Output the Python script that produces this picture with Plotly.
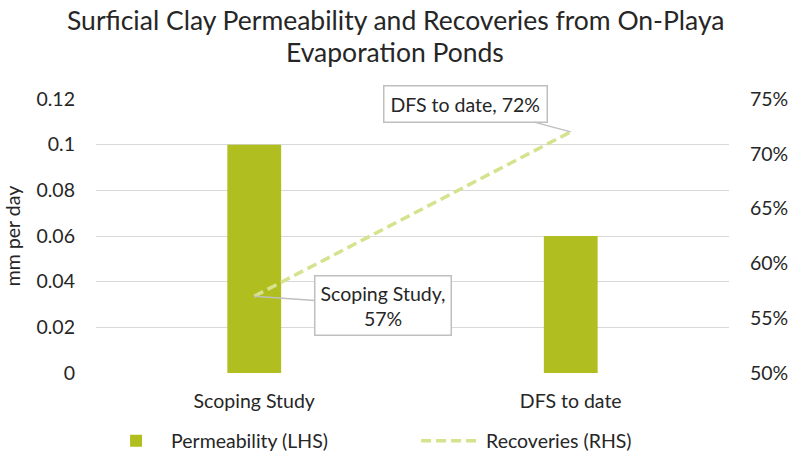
import plotly.graph_objects as go

categories = ["Scoping Study", "DFS to date"]
permeability = [0.10, 0.06]
recoveries = [0.57, 0.72]
left_ticks = [0, 0.02, 0.04, 0.06, 0.08, 0.1, 0.12]
left_tick_text = ["0", "0.02", "0.04", "0.06", "0.08", "0.1", "0.12"]
right_ticks = [0.50, 0.55, 0.60, 0.65, 0.70, 0.75]
title_lines = ["Surficial Clay Permeability and Recoveries from On-Playa", "Evaporation Ponds"]

FONT = "Lato"
TXT = "#262626"
FS = 19.5

L, R, T, B = 96, 61, 99, 80
W, H = 790, 453
PH = H - T - B
PW = W - L - R

fig = go.Figure()
fig.add_trace(go.Bar(
    x=categories, y=permeability, name="Permeability (LHS)",
    marker=dict(color="#B0BF1F", line=dict(width=0)),
))
fig.add_trace(go.Scatter(
    x=categories, y=recoveries, name="Recoveries (RHS)", yaxis="y2",
    mode="lines", line=dict(color="#D6E28D", width=3.5, dash="10px,5px"),
))

title_ann = [
    dict(text=title_lines[0], xref="paper", yref="paper",
         x=(395 - L) / PW, y=(H - B - 20) / PH, xanchor="center", yanchor="middle",
         showarrow=False, font=dict(family=FONT, size=26.5, color=TXT)),
    dict(text=title_lines[1], xref="paper", yref="paper",
         x=(395 - L) / PW, y=(H - B - 52) / PH, xanchor="center", yanchor="middle",
         showarrow=False, font=dict(family=FONT, size=26.5, color=TXT)),
]

fig.update_layout(
    width=W, height=H,
    margin=dict(l=L, r=R, t=T, b=B, autoexpand=False),
    paper_bgcolor="white", plot_bgcolor="white",
    font=dict(family=FONT, size=FS, color=TXT),
    bargap=0.83,
    showlegend=True,
    legend=dict(
        orientation="h", x=0.008, xanchor="left",
        y=-(441 - (H - B)) / PH, yanchor="middle",
        font=dict(size=FS, color=TXT), entrywidth=240, entrywidthmode="pixels",
        itemwidth=60,
    ),
    xaxis=dict(
        showgrid=False, showline=False,
        ticks="", ticklabelstandoff=14, tickfont=dict(size=FS, color=TXT),
    ),
    yaxis=dict(
        range=[0, 0.12], tickvals=left_ticks, ticktext=left_tick_text,
        showgrid=True, gridcolor="#D9D9D9", gridwidth=1, zeroline=False,
        ticks="", ticklabelstandoff=20,
        title=dict(text="mm per day", font=dict(size=FS, color=TXT), standoff=10),
        tickfont=dict(size=FS, color=TXT),
    ),
    yaxis2=dict(
        range=[0.5, 0.75], tickvals=right_ticks, tickformat=".0%",
        overlaying="y", side="right", showgrid=False, zeroline=False,
        ticks="", ticklabelstandoff=20, tickfont=dict(size=FS, color=TXT),
    ),
    annotations=title_ann + [
        dict(
            x=categories[1], y=recoveries[1], xref="x", yref="y2",
            text="DFS to date, 72%", showarrow=True, arrowhead=0,
            arrowcolor="#BFBFBF", arrowwidth=1.5, ax=-105, ay=-28,
            bgcolor="white", bordercolor="#BFBFBF", borderwidth=1.5, borderpad=6,
            font=dict(size=FS, color=TXT),
        ),
        dict(
            x=categories[0], y=recoveries[0], xref="x", yref="y2",
            text="Scoping Study,<br>57%", showarrow=True, arrowhead=0,
            arrowcolor="#BFBFBF", arrowwidth=1.5, ax=129, ay=9,
            bgcolor="white", bordercolor="#BFBFBF", borderwidth=1.5, borderpad=5,
            font=dict(size=FS, color=TXT),
        ),
    ],
)

fig.write_html("out.html", config={"displayModeBar": False},
               post_script="document.body.style.margin='0';")
